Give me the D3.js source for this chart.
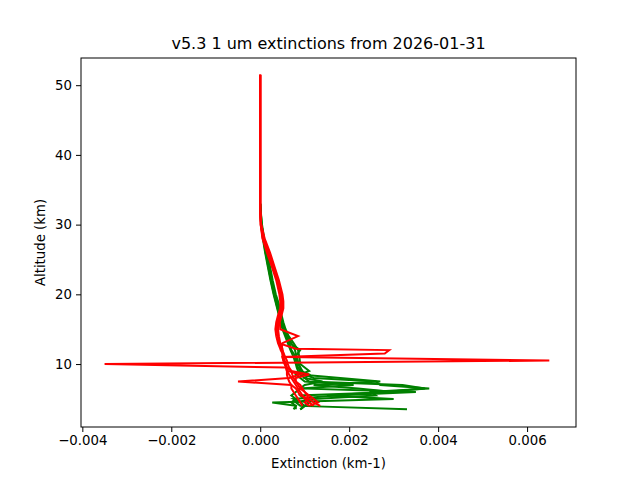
<!DOCTYPE html>
<html><head><meta charset="utf-8">
<script src="https://cdn.jsdelivr.net/npm/d3@7"></script>
<style>body{margin:0;background:#fff}text{font-family:"DejaVu Sans",sans-serif}</style>
</head><body><svg id="c" width="640" height="480"></svg>
<script>
// altitude levels (km)
const altRed = [51.5,45,40,35,32,30,28,26,24,22,20,19,18,17,16,15,14,13,12.2,12,11.5,11,10.5,10,9.5,9,8.5,8,7.5,7,6.5,6,5.5,5,4.5,4];
const altGreen = [33,32,30,28,26,24,22,20,19,18,17,16,15,14,13,12,11,10,9.5,9,8.5,8,7.5,7,6.5,6,5.5,5,4.5,4,3.5];

// red profiles (extinction km-1)
const red1 = [0,0,0,0,0,0.00002,0.00008,0.0002,0.0003,0.0004,0.00048,0.0005,0.0005,0.00045,0.0004,0.0004,0.00042,0.00045,0.0005,0.0005,0.00052,0.00055,0.0065,-0.0035,0.00058,0.0006,0.00065,0.0007,0.00075,0.0008,0.00085,0.0009,0.00095,0.001,0.0011,0.0012];
const red2 = [0,0,0,0,0,0.00001,0.00006,0.00018,0.00028,0.00038,0.00045,0.00048,0.00047,0.00043,0.00038,0.00036,0.0004,0.00042,0.0008,0.0029,0.0028,0.0005,0.00052,0.00055,0.0006,0.00062,0.0009,0.00065,-0.0005,0.0007,0.0008,0.00085,0.0009,0.0011,0.001,0.0011];
const red3 = [0,0,0,0,0,0.00002,0.0001,0.00022,0.00032,0.00042,0.0005,0.00052,0.00052,0.00048,0.00044,0.00045,0.00085,0.0005,0.00048,0.0005,0.00053,0.00056,0.0006,0.00062,0.00065,0.0007,0.00072,0.00075,0.0008,0.0009,0.00095,0.001,0.0011,0.0012,0.0013,0.0011];
const red4 = [0,0,0,0,0,0.00001,0.00005,0.00015,0.00026,0.00036,0.00043,0.00045,0.00045,0.0004,0.00036,0.00034,0.00036,0.0004,0.00045,0.00046,0.0005,0.0005,0.00052,0.00055,0.00058,0.0006,0.0006,0.00062,0.00065,0.0007,0.0007,0.00075,0.0008,0.00085,0.0009,0.00095];
const red5 = [0,0,0,0,0,0.00002,0.00007,0.00019,0.0003,0.0004,0.00047,0.0005,0.00049,0.00046,0.00041,0.0004,0.0004,0.00043,0.00047,0.00048,0.0005,0.00052,0.00055,0.00058,0.0006,0.0007,0.0011,0.0008,0.0008,0.00085,0.0009,0.001,0.00105,0.0011,0.0012,0.00135];
const redSeries = [red1, red2, red3, red4, red5];

// green profiles
const green1 = [0,0.00001,0.00003,0.00008,0.00014,0.0002,0.00026,0.00032,0.00036,0.0004,0.00044,0.00048,0.00052,0.00058,0.00065,0.0007,0.0008,0.00085,0.0009,0.00095,0.001,0.0012,0.0026,0.0027,0.0038,0.0025,0.0026,0.0012,0.0008,0.0009,0.0033];
const green2 = [0,0.00001,0.00002,0.00006,0.00011,0.00017,0.00023,0.0003,0.00034,0.00038,0.00042,0.00046,0.0005,0.00056,0.00062,0.00068,0.00075,0.0008,0.00082,0.00085,0.0009,0.001,0.0011,0.0032,0.0037,0.0028,0.0015,0.003,0.00027,0.0008,0.00075];
const green3 = [0,0.00001,0.00004,0.00009,0.00015,0.00022,0.00028,0.00035,0.0004,0.00044,0.00048,0.00052,0.00057,0.00064,0.00075,0.00085,0.00088,0.0009,0.001,0.0011,0.0009,0.0018,0.0027,0.0012,0.0022,0.003,0.0009,0.001,0.0011,0.001,0.0009];
const green4 = [0,0.00001,0.00002,0.00007,0.00012,0.00018,0.00024,0.00031,0.00035,0.00039,0.00043,0.00048,0.00053,0.0006,0.00066,0.0009,0.00078,0.00082,0.00085,0.0009,0.0008,0.0009,0.001,0.0021,0.0009,0.0008,0.0007,0.0008,0.0007,0.0008,0.0008];
const green5 = [0,0.00001,0.00003,0.00008,0.00013,0.00019,0.00025,0.00033,0.00037,0.00041,0.00045,0.0005,0.00055,0.00062,0.0007,0.00078,0.00082,0.00087,0.0009,0.0009,0.0011,0.001,0.0014,0.001,0.0009,0.0035,0.0017,0.00075,0.0009,0.001,0.0009];
const greenSeries = [green1, green2, green3, green4, green5];

const xTicks = [-0.004,-0.002,0,0.002,0.004,0.006];
const yTicks = [10,20,30,40,50];

const svg = d3.select("#c");
const L = 81, R = 576, T = 58, B = 427;
const x = d3.scaleLinear().domain([-0.00403, 0.0071]).range([L, R]);
const y = d3.scaleLinear().domain([0.97, 53.9]).range([B, T]);

const line = () => d3.line().x(d => x(d[0])).y(d => y(d[1]));
function draw(series, alts, color) {
  series.forEach(s => {
    svg.append("path").datum(s.map((v, i) => [v, alts[i]]))
      .attr("d", line()).attr("fill", "none").attr("stroke", color).attr("stroke-width", 2);
  });
}
draw(greenSeries, altGreen, "green");
draw(redSeries, altRed, "red");

svg.append("rect").attr("x", L).attr("y", T).attr("width", R - L).attr("height", B - T)
  .attr("fill", "none").attr("stroke", "#000").attr("stroke-width", 1);

const fmt = d => d === 0 ? "0.000" : d3.format(".3f")(d).replace("-", "\u2212");
svg.append("g").attr("transform", `translate(0,${B})`)
  .call(d3.axisBottom(x).tickValues(xTicks).tickFormat(fmt).tickSize(5).tickPadding(4))
  .call(g => g.select(".domain").remove())
  .selectAll("text").attr("font-size", 13.3).attr("fill", "#000");
svg.append("g").attr("transform", `translate(${L},0)`)
  .call(d3.axisLeft(y).tickValues(yTicks).tickSize(5).tickPadding(4))
  .call(g => g.select(".domain").remove())
  .selectAll("text").attr("font-size", 13.3).attr("fill", "#000");

svg.append("text").attr("x", (L + R) / 2).attr("y", 49).attr("text-anchor", "middle")
  .attr("font-size", 16).text("v5.3 1 um extinctions from 2026-01-31");
svg.append("text").attr("x", (L + R) / 2).attr("y", 468).attr("text-anchor", "middle")
  .attr("font-size", 13.3).text("Extinction (km-1)");
svg.append("text").attr("transform", `translate(45,${(T + B) / 2}) rotate(-90)`).attr("text-anchor", "middle")
  .attr("font-size", 13.3).text("Altitude (km)");
</script></body></html>
